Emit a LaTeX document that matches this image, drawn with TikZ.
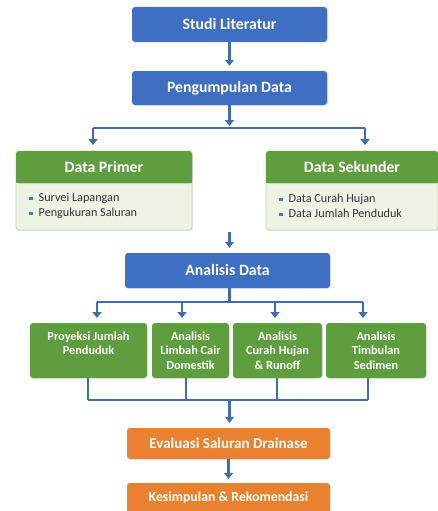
\documentclass[tikz,border=0pt]{standalone}
\usepackage{fontspec}
\setmainfont{Carlito}
\usetikzlibrary{positioning,arrows.meta,shadows}

\definecolor{stepblue}{HTML}{3F6FC3}
\definecolor{stepgreen}{HTML}{5E9E3E}
\definecolor{paleg}{HTML}{EDF4E6}
\definecolor{paleline}{HTML}{C3D3B6}
\definecolor{steporange}{HTML}{E9822F}
\definecolor{wire}{HTML}{3F6DAF}
\definecolor{bullet}{HTML}{4A78B8}
\definecolor{listgray}{HTML}{333333}

\tikzset{
  box/.style={rounded corners=3pt,text=white,font=\bfseries,align=center,
    inner sep=0pt,drop shadow={shadow xshift=0.8pt,shadow yshift=-1.2pt,opacity=0.18}},
  bluebox/.style={box,fill=stepblue},
  greenbox/.style={box,fill=stepgreen},
  orangebox/.style={box,fill=steporange},
  headfont/.style={font=\bfseries\fontsize{15.8}{18}\selectfont},
  smallfont/.style={font=\bfseries\fontsize{12.3}{14.5}\selectfont},
  listbox/.style={rounded corners=3pt,fill=paleg,draw=paleline,line width=0.8pt,
    inner sep=0pt,drop shadow={shadow xshift=0.8pt,shadow yshift=-1.2pt,opacity=0.18}},
  listtext/.style={text=listgray,font=\fontsize{12.2}{15}\selectfont,align=left,inner sep=0pt},
  link/.style={wire,line width=2.3pt},
  arrow/.style={link,-{Triangle[width=9pt,length=6pt]}}
}
\newcommand{\blt}{\textcolor{bullet}{\rule[0.25ex]{3.5pt}{3.5pt}}\hspace{6pt}}

\begin{document}
\begin{tikzpicture}[x=1pt,y=-1pt]
\useasboundingbox (0,0) rectangle (438,511);

% top of the flow
\node[bluebox,headfont,minimum width=195pt,minimum height=35pt] (lit) at (229.5,24.5) {Studi Literatur};
\node[bluebox,headfont,minimum width=195pt,minimum height=34pt] (peng) at (229.5,88) {Pengumpulan Data};
\draw[arrow,shorten >=5pt] (lit) -- (peng);

% data sources
\node[listbox,minimum width=176pt,minimum height=79pt] (primbody) at (104,190.5) {};
\node[greenbox,headfont,minimum width=176pt,minimum height=32pt] (prim) at (104,167) {Data Primer};
\fill[stepgreen] ([yshift=4pt]prim.south west) rectangle (prim.south east);
\node[listtext,anchor=west] (primlist) at (29,206) {\blt Survei Lapangan\\\blt Pengukuran Saluran};

\node[listbox,minimum width=172pt,minimum height=79pt] (sekbody) at (352,190.5) {};
\node[greenbox,headfont,minimum width=172pt,minimum height=32pt] (sek) at (352,167) {Data Sekunder};
\fill[stepgreen] ([yshift=4pt]sek.south west) rectangle (sek.south east);
\node[listtext,anchor=west] (seklist) at (279,206) {\blt Data Curah Hujan\\\blt Data Jumlah Penduduk};

\coordinate (split) at (229.5,128);
\coordinate (primin) at (93,151);
\coordinate (sekin) at (365,151);
\draw[arrow,shorten >=5pt] (peng) -- ([yshift=-3pt]split);
\draw[link] (primin |- split) -- (sekin |- split);
\draw[arrow,shorten >=6pt] (primin |- split) -- (primin);
\draw[arrow,shorten >=6pt] (sekin |- split) -- (sekin);

% analysis
\node[bluebox,headfont,minimum width=205pt,minimum height=35pt] (ana) at (227.5,270.5) {Analisis Data};
\coordinate (join) at (229.5,232);
\draw[arrow,shorten >=5pt] (join) -- (join |- ana.north);

\node[greenbox,smallfont,minimum width=117pt,minimum height=55pt] (proy) at (88.5,350.5) {Proyeksi Jumlah\\Penduduk\\\mbox{}};
\node[greenbox,smallfont,minimum width=77pt,minimum height=55pt] (limb) at (190.5,350.5) {Analisis\\Limbah Cair\\Domestik};
\node[greenbox,smallfont,minimum width=89pt,minimum height=55pt] (cur) at (277.5,350.5) {Analisis\\Curah Hujan\\\& Runoff};
\node[greenbox,smallfont,minimum width=100pt,minimum height=55pt] (timb) at (376,350.5) {Analisis\\Timbulan\\Sedimen};

\coordinate (bus) at (229.5,302);
\draw[link] (ana.south -| bus) -- (bus);
\draw[link] (97,302) -- (363,302);
\foreach \x in {97,182,275,363}
  \draw[arrow,shorten >=5pt] (\x,302) -- (\x,323);

% merge
\coordinate (merge) at (229.5,400);
\foreach \n/\x in {proy/88,limb/186,cur/277,timb/368}
  \draw[link] (\n.south -| \x,0) -- (\x,400);
\draw[link] (88,400) -- (368,400);

\node[orangebox,font=\bfseries\fontsize{15}{17}\selectfont,minimum width=203pt,minimum height=31pt] (eval) at (228.5,443.5) {Evaluasi Saluran Drainase};
\node[orangebox,font=\bfseries\fontsize{13.8}{16}\selectfont,minimum width=203pt,minimum height=30pt] (kes) at (228.5,498) {Kesimpulan \& Rekomendasi};
\draw[arrow,shorten >=5pt] (merge) -- (merge |- eval.north);
\draw[arrow,shorten >=4pt] (eval) -- (kes);
\end{tikzpicture}
\end{document}
